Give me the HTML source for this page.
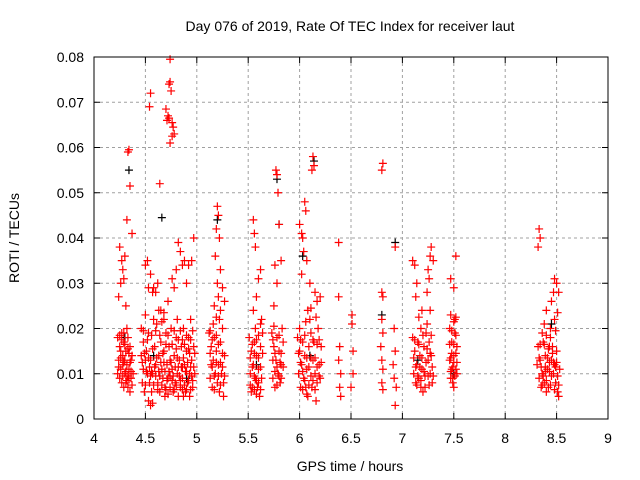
<!DOCTYPE html>
<html><head><meta charset="utf-8"><style>
html,body{margin:0;padding:0;background:#fff;}
svg{display:block;font-family:"Liberation Sans",sans-serif;}
</style></head><body>
<svg id="chart" width="640" height="480" viewBox="0 0 640 480">
<text x="350" y="31" font-size="14" text-anchor="middle" fill="#000">Day 076 of 2019, Rate Of TEC Index for receiver laut</text>
<g id="grid"></g>
<g id="ticks"></g>
<g id="marks"></g>
<rect x="94" y="57" width="514" height="362" fill="none" stroke="#000" stroke-width="1"/>
<text x="350" y="471" font-size="14" text-anchor="middle">GPS time / hours</text>
<text x="19" y="238" font-size="14" text-anchor="middle" transform="rotate(-90 19 238)">ROTI / TECUs</text>
</svg>
<script>
const xTicks=[4,4.5,5,5.5,6,6.5,7,7.5,8,8.5,9];
const xTickLabels=["4","4.5","5","5.5","6","6.5","7","7.5","8","8.5","9"];
const yTicks=[0,0.01,0.02,0.03,0.04,0.05,0.06,0.07,0.08];
const yTickLabels=["0","0.01","0.02","0.03","0.04","0.05","0.06","0.07","0.08"];
const redPoints=[
[4.25,0.038],[4.27,0.035],[4.30,0.036],[4.28,0.033],[4.32,0.044],[4.33,0.059],[4.34,0.0595],[4.35,0.0515],[4.37,0.041],[4.26,0.030],[4.24,0.027],[4.29,0.031],[4.31,0.025],
[4.23,0.018],[4.25,0.016],[4.27,0.019],[4.29,0.017],[4.31,0.015],[4.33,0.018],[4.35,0.016],[4.37,0.014],[4.24,0.013],[4.26,0.011],[4.28,0.012],[4.30,0.010],[4.32,0.012],[4.34,0.011],[4.36,0.009],[4.25,0.009],[4.27,0.008],[4.29,0.007],[4.31,0.008],[4.33,0.007],[4.35,0.006],[4.23,0.010],[4.38,0.010],[4.28,0.014],[4.32,0.020],[4.36,0.013],[4.26,0.015],[4.30,0.013],[4.34,0.009],
[4.54,0.069],[4.55,0.072],[4.64,0.052],[4.70,0.0685],[4.71,0.066],[4.72,0.067],[4.73,0.0665],[4.73,0.074],[4.74,0.0745],[4.74,0.0795],[4.75,0.0725],[4.76,0.0655],[4.77,0.0645],[4.78,0.063],[4.76,0.0625],[4.74,0.061],
[4.50,0.034],[4.52,0.035],[4.55,0.032],[4.58,0.029],[4.60,0.028],[4.62,0.030],[4.65,0.024],[4.68,0.022],[4.72,0.026],[4.76,0.031],[4.78,0.029],[4.80,0.033],[4.82,0.039],[4.84,0.037],[4.86,0.034],[4.88,0.035],[4.90,0.030],[4.92,0.034],[4.95,0.035],[4.97,0.040],[4.53,0.029],[4.57,0.028],
[4.46,0.020],[4.48,0.017],[4.50,0.013],[4.52,0.010],[4.54,0.008],[4.56,0.006],[4.53,0.004],[4.55,0.003],[4.57,0.0035],[4.48,0.011],[4.47,0.008],[4.49,0.006],[4.51,0.015],[4.53,0.019],[4.55,0.013],[4.57,0.010],[4.59,0.016],[4.61,0.021],[4.63,0.024],[4.60,0.012],[4.62,0.008],[4.64,0.006],[4.66,0.011],[4.68,0.015],[4.70,0.019],[4.65,0.017],[4.67,0.009],[4.69,0.007],[4.71,0.012],[4.73,0.016],[4.75,0.020],[4.72,0.009],[4.74,0.007],[4.76,0.011],[4.78,0.014],[4.80,0.018],[4.77,0.006],[4.79,0.008],[4.81,0.010],[4.83,0.013],[4.85,0.016],[4.87,0.020],[4.84,0.007],[4.86,0.009],[4.88,0.012],[4.90,0.015],[4.92,0.018],[4.89,0.006],[4.91,0.008],[4.93,0.010],[4.95,0.013],[4.97,0.016],[4.96,0.007],[4.94,0.022],[4.82,0.005],[4.58,0.022],[4.63,0.014],[4.69,0.005],[4.74,0.013],[4.81,0.022],[4.87,0.005],[4.93,0.005],[4.98,0.010],[4.50,0.023],[4.46,0.014],
[5.20,0.047],[5.21,0.045],[5.19,0.042],[5.22,0.040],[5.18,0.036],[5.23,0.033],[5.25,0.029],[5.27,0.026],[5.20,0.030],[5.17,0.025],
[5.12,0.019],[5.14,0.016],[5.16,0.013],[5.18,0.010],[5.20,0.008],[5.22,0.006],[5.13,0.009],[5.15,0.007],[5.17,0.018],[5.19,0.015],[5.21,0.012],[5.23,0.017],[5.25,0.020],[5.24,0.010],[5.26,0.008],[5.27,0.014],[5.16,0.021],[5.22,0.022],[5.14,0.012],[5.26,0.005],
[5.55,0.044],[5.56,0.041],[5.57,0.038],[5.60,0.031],[5.62,0.033],[5.58,0.027],[5.55,0.024],[5.63,0.022],
[5.51,0.018],[5.53,0.015],[5.55,0.012],[5.57,0.009],[5.59,0.007],[5.61,0.005],[5.52,0.010],[5.54,0.007],[5.56,0.017],[5.58,0.014],[5.60,0.011],[5.62,0.016],[5.64,0.019],[5.63,0.009],[5.57,0.020],[5.53,0.006],[5.60,0.008],
[5.77,0.055],[5.78,0.054],[5.79,0.050],[5.80,0.043],[5.82,0.035],[5.76,0.034],[5.78,0.030],[5.75,0.025],
[5.73,0.019],[5.75,0.016],[5.77,0.013],[5.79,0.010],[5.81,0.008],[5.74,0.009],[5.76,0.007],[5.78,0.018],[5.80,0.015],[5.82,0.012],[5.84,0.017],[5.83,0.020],[5.74,0.013],[5.82,0.009],
[6.00,0.043],[6.02,0.041],[6.03,0.040],[6.05,0.048],[6.06,0.046],[6.13,0.058],[6.12,0.055],[6.14,0.056],[6.07,0.035],[6.04,0.037],[6.10,0.030],[6.15,0.028],[6.17,0.026],[6.02,0.032],[6.20,0.027],[6.08,0.024],
[5.98,0.018],[6.00,0.015],[6.02,0.012],[6.04,0.009],[6.06,0.007],[6.08,0.005],[5.99,0.010],[6.01,0.007],[6.03,0.017],[6.05,0.014],[6.07,0.011],[6.09,0.016],[6.11,0.019],[6.13,0.013],[6.15,0.010],[6.17,0.008],[6.19,0.012],[6.21,0.016],[6.12,0.007],[6.16,0.004],[6.18,0.020],[6.10,0.022],[6.14,0.017],[6.20,0.009],[6.00,0.020],
[6.38,0.039],[6.38,0.027],[6.39,0.016],[6.38,0.013],[6.40,0.010],[6.39,0.007],[6.40,0.005],[6.51,0.023],[6.51,0.021],[6.52,0.015],[6.52,0.010],[6.50,0.007],
[6.80,0.055],[6.81,0.0565],[6.80,0.028],[6.81,0.027],[6.80,0.022],[6.81,0.019],[6.79,0.016],[6.80,0.013],[6.81,0.011],[6.80,0.008],[6.81,0.0065],[6.93,0.038],[6.92,0.020],[6.93,0.015],[6.91,0.012],[6.92,0.009],[6.94,0.007],[6.93,0.003],
[7.10,0.035],[7.12,0.034],[7.14,0.030],[7.13,0.027],[7.28,0.038],[7.27,0.036],[7.25,0.033],[7.26,0.031],[7.24,0.028],[7.30,0.035],[7.19,0.024],
[7.10,0.018],[7.12,0.015],[7.14,0.012],[7.16,0.009],[7.18,0.007],[7.11,0.010],[7.13,0.008],[7.15,0.017],[7.17,0.014],[7.19,0.011],[7.21,0.016],[7.23,0.019],[7.25,0.013],[7.27,0.010],[7.29,0.008],[7.22,0.007],[7.24,0.021],[7.20,0.006],[7.26,0.017],[7.28,0.014],[7.18,0.020],
[7.47,0.031],[7.50,0.029],[7.52,0.036],[7.47,0.023],[7.51,0.022],[7.46,0.020],[7.48,0.017],[7.50,0.014],[7.52,0.011],[7.47,0.009],[7.49,0.008],[7.51,0.019],[7.53,0.016],[7.46,0.013],[7.48,0.011],[7.50,0.007],[7.53,0.010],
[8.33,0.042],[8.34,0.040],[8.32,0.038],[8.48,0.031],[8.50,0.030],[8.47,0.028],[8.52,0.028],[8.45,0.026],[8.40,0.024],[8.38,0.021],[8.48,0.022],[8.36,0.019],
[8.32,0.016],[8.34,0.013],[8.36,0.010],[8.38,0.008],[8.40,0.006],[8.33,0.009],[8.35,0.007],[8.37,0.017],[8.39,0.014],[8.41,0.011],[8.43,0.016],[8.45,0.013],[8.47,0.010],[8.49,0.008],[8.51,0.006],[8.52,0.005],[8.44,0.018],[8.46,0.016],[8.48,0.012],[8.50,0.015],[8.42,0.007],[8.53,0.011],[8.31,0.012]
];
const redDense=[
[4.24,0.0115],[4.26,0.0135],[4.28,0.0095],[4.30,0.0165],[4.32,0.0085],[4.34,0.0145],[4.36,0.0105],[4.27,0.0175],[4.31,0.0105],[4.35,0.0125],[4.29,0.0125],[4.33,0.0155],[4.25,0.0185],[4.37,0.0075],[4.29,0.0190],[4.33,0.0095],
[4.47,0.0125],[4.49,0.0145],[4.51,0.0105],[4.53,0.0135],[4.55,0.0095],[4.57,0.0155],[4.59,0.0115],[4.61,0.0135],[4.63,0.0105],[4.65,0.0125],[4.67,0.0145],[4.69,0.0105],[4.71,0.0085],[4.73,0.0105],[4.75,0.0125],[4.77,0.0095],[4.79,0.0115],[4.81,0.0135],[4.83,0.0095],[4.85,0.0115],[4.87,0.0135],[4.89,0.0105],[4.91,0.0125],[4.93,0.0145],[4.95,0.0095],[4.97,0.0115],
[4.48,0.0195],[4.52,0.0175],[4.56,0.0185],[4.60,0.0195],[4.64,0.0185],[4.66,0.0215],[4.68,0.0235],[4.70,0.0165],[4.72,0.0185],[4.76,0.0165],[4.78,0.0195],[4.80,0.0155],[4.82,0.0175],[4.84,0.0195],[4.86,0.0175],[4.88,0.0165],[4.90,0.0185],[4.92,0.0155],[4.94,0.0175],[4.96,0.0195],[4.98,0.0145],
[4.50,0.0075],[4.58,0.0075],[4.62,0.0065],[4.66,0.0075],[4.70,0.0065],[4.72,0.0055],[4.76,0.0085],[4.78,0.0065],[4.80,0.0075],[4.84,0.0085],[4.86,0.0065],[4.88,0.0075],[4.90,0.0065],[4.92,0.0085],[4.94,0.0065],[4.96,0.0085],[4.54,0.0115],[4.56,0.0105],[4.60,0.0095],[4.64,0.0095],[4.68,0.0125],[4.74,0.0095],[4.82,0.0115],[4.86,0.0115],[4.90,0.0105],[4.94,0.0115],
[5.13,0.0145],[5.15,0.0115],[5.17,0.0095],[5.19,0.0125],[5.21,0.0095],[5.23,0.0125],[5.25,0.0145],[5.15,0.0175],[5.19,0.0185],[5.23,0.0075],[5.17,0.0065],[5.21,0.0165],[5.25,0.0115],[5.13,0.0195],[5.27,0.0095],[5.19,0.0225],[5.21,0.0270],[5.23,0.0240],
[5.52,0.0135],[5.54,0.0115],[5.56,0.0095],[5.58,0.0085],[5.60,0.0135],[5.62,0.0115],[5.54,0.0165],[5.58,0.0175],[5.62,0.0065],[5.56,0.0065],[5.60,0.0185],[5.64,0.0145],[5.52,0.0075],[5.58,0.0055],[5.56,0.0145],[5.62,0.0210],
[5.74,0.0175],[5.76,0.0145],[5.78,0.0115],[5.80,0.0095],[5.82,0.0145],[5.76,0.0105],[5.80,0.0185],[5.84,0.0115],[5.78,0.0075],[5.75,0.0205],[5.81,0.0125],
[5.99,0.0145],[6.01,0.0125],[6.03,0.0105],[6.05,0.0085],[6.07,0.0135],[6.09,0.0115],[6.11,0.0095],[6.13,0.0085],[6.15,0.0135],[6.17,0.0115],[6.19,0.0095],[6.01,0.0175],[6.05,0.0185],[6.09,0.0075],[6.13,0.0175],[6.17,0.0165],[6.21,0.0125],[6.03,0.0065],[6.07,0.0055],[6.11,0.0135],[6.15,0.0065],[6.19,0.0175],[6.11,0.0245],[6.16,0.0225],[6.06,0.0215],
[7.11,0.0135],[7.13,0.0115],[7.15,0.0095],[7.17,0.0115],[7.19,0.0135],[7.21,0.0105],[7.23,0.0125],[7.25,0.0095],[7.27,0.0145],[7.29,0.0115],[7.12,0.0175],[7.16,0.0165],[7.20,0.0185],[7.24,0.0155],[7.28,0.0185],[7.14,0.0075],[7.18,0.0085],[7.22,0.0095],[7.26,0.0075],[7.30,0.0095],[7.16,0.0225],[7.27,0.0240],
[7.46,0.0165],[7.48,0.0145],[7.50,0.0125],[7.52,0.0145],[7.47,0.0105],[7.49,0.0115],[7.51,0.0095],[7.53,0.0125],[7.48,0.0195],[7.50,0.0215],[7.52,0.0185],[7.47,0.0135],[7.50,0.0165],[7.52,0.0225],[7.49,0.0090],
[8.33,0.0135],[8.35,0.0115],[8.37,0.0095],[8.39,0.0115],[8.41,0.0135],[8.43,0.0105],[8.45,0.0095],[8.47,0.0125],[8.49,0.0115],[8.51,0.0095],[8.34,0.0165],[8.38,0.0165],[8.42,0.0155],[8.46,0.0145],[8.50,0.0125],[8.36,0.0075],[8.40,0.0085],[8.44,0.0075],[8.48,0.0065],[8.52,0.0075],[8.40,0.0185],[8.44,0.0200],[8.49,0.0195],[8.51,0.0235],[8.39,0.0105],[8.43,0.0125]
];
const blackPoints=[[4.34,0.055],[4.66,0.0445],[4.30,0.018],[4.58,0.014],[4.90,0.009],[5.20,0.044],[5.58,0.012],[5.78,0.053],[5.80,0.043],[6.03,0.036],[6.14,0.057],[6.10,0.014],[6.80,0.023],[6.93,0.039],[7.15,0.013],[7.50,0.010],[8.45,0.021]];
const X0=94,X1=608,Y0=419,Y1=57;
const xs=h=>X0+(h-4)/(9-4)*(X1-X0);
const ys=v=>Y0-v/0.08*(Y0-Y1);
const NS="http://www.w3.org/2000/svg";
const grid=document.getElementById('grid'),ticks=document.getElementById('ticks'),marks=document.getElementById('marks');
function mk(tag,attrs,parent){const e=document.createElementNS(NS,tag);for(const k in attrs)e.setAttribute(k,attrs[k]);parent.appendChild(e);return e;}
xTicks.forEach((t,i)=>{const x=xs(t);
 if(i>0&&i<xTicks.length-1){const g=mk('line',{x1:x,x2:x,y1:Y1,y2:Y0,stroke:'#a0a0a0','stroke-dasharray':'3,3'},grid);
 
 }
 mk('line',{x1:x,x2:x,y1:Y0,y2:Y0-6,stroke:'#000'},ticks);mk('line',{x1:x,x2:x,y1:Y1,y2:Y1+6,stroke:'#000'},ticks);
 const tx=mk('text',{x:x,y:443,'font-size':14,'text-anchor':'middle'},ticks);tx.textContent=xTickLabels[i];
 
 
});
yTicks.forEach((t,i)=>{const y=ys(t);
 if(i>0&&i<yTicks.length-1){const g=mk('line',{x1:X0,x2:X1,y1:y,y2:y,stroke:'#a0a0a0','stroke-dasharray':'3,3'},grid);
 
 }
 mk('line',{x1:X0,x2:X0+6,y1:y,y2:y,stroke:'#000'},ticks);mk('line',{x1:X1,x2:X1-6,y1:y,y2:y,stroke:'#000'},ticks);
 const tx=mk('text',{x:84,y:y+5,'font-size':14,'text-anchor':'end'},ticks);tx.textContent=yTickLabels[i];
 
 
});
function plus(p,color,name){const x=xs(p[0]),y=ys(p[1]);
 const e=mk('path',{d:`M${x-4},${y}H${x+4}M${x},${y-4}V${y+4}`,stroke:color,'stroke-width':1.2,fill:'none'},marks);
 
 }
blackPoints.forEach(p=>plus(p,'#000','roti-point-black'));
redPoints.forEach(p=>plus(p,'#ff0000','roti-point'));
redDense.forEach(p=>plus(p,'#ff0000','roti-point'));
</script>
</body></html>
